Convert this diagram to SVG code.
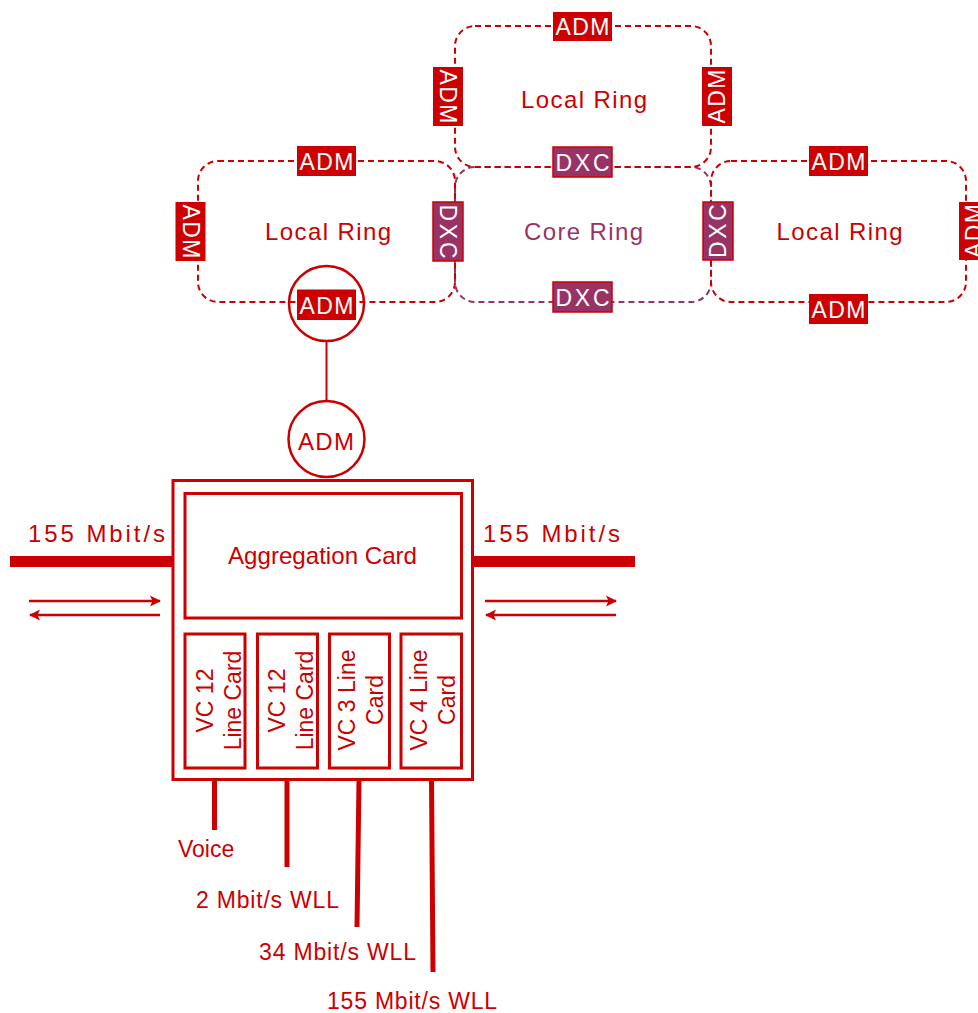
<svg xmlns="http://www.w3.org/2000/svg" width="978" height="1013" viewBox="0 0 978 1013">
  <style>
    text { font-family: "Liberation Sans", Arial, sans-serif; }
    .ring { fill: none; stroke: #CC0000; stroke-width: 2; stroke-dasharray: 6 4; }
    .core { fill: none; stroke: #993366; stroke-width: 2; stroke-dasharray: 6 4; }
    .adm { fill: #CC0000; }
    .dxc { fill: #993366; stroke: #CC0000; stroke-width: 1.5; }
    .boxtxt { fill: #FFFFFF; font-size: 23px; text-anchor: middle; }
    .ringtxt { fill: #CC0000; font-size: 23px; text-anchor: middle; }
    .big { font-size: 24px; }
    .coretxt { fill: #993366; font-size: 24px; text-anchor: middle; }
    .frame { fill: #FFFFFF; stroke: #CC0000; stroke-width: 3; }
    .card { fill: none; stroke: #CC0000; stroke-width: 3; }
    .lbl { fill: #CC0000; font-size: 23px; }
    .rate { font-size: 24px; }
    .circ { fill: none; stroke: #CC0000; stroke-width: 2.5; }
    .trunk { stroke: #CC0000; stroke-width: 11; }
    .drop { stroke: #CC0000; stroke-width: 5; }
    .link { stroke: #CC0000; stroke-width: 2; fill: none; }
    .flow { stroke: #CC0000; stroke-width: 2.5; fill: none; marker-end: url(#head); }
  </style>
  <defs>
    <marker id="head" markerUnits="userSpaceOnUse" markerWidth="14" markerHeight="14" refX="11" refY="7" orient="auto">
      <path d="M1,1.5 L12,7 L1,12.5 L3.5,7 Z" fill="#CC0000"/>
    </marker>
  </defs>

  <!-- SDH rings -->
  <g id="core-ring">
    <rect class="core" x="455" y="167" width="256" height="135" rx="20"/>
  </g>
  <g id="local-ring-top">
    <rect class="ring" x="455" y="26" width="256" height="141" rx="20"/>
    <text class="ringtxt big" x="584" y="108" textLength="126" lengthAdjust="spacing">Local Ring</text>
  </g>
  <g id="local-ring-left">
    <rect class="ring" x="198" y="161" width="257" height="141" rx="20"/>
    <text class="ringtxt big" x="328" y="240" textLength="126" lengthAdjust="spacing">Local Ring</text>
  </g>
  <g id="local-ring-right">
    <rect class="ring" x="711" y="161" width="255" height="141" rx="20"/>
    <text class="ringtxt big" x="839.5" y="240" textLength="126" lengthAdjust="spacing">Local Ring</text>
  </g>
  <g id="core-label">
    <text class="coretxt" x="583.5" y="240" textLength="119" lengthAdjust="spacing">Core Ring</text>
  </g>

  <!-- Ring network elements -->
  <g id="adm-top-1">
    <rect class="adm" x="553" y="12" width="59" height="29"/>
    <text class="boxtxt" x="582.5" y="35" textLength="54" lengthAdjust="spacing">ADM</text>
  </g>
  <g id="adm-top-2" transform="translate(448,96.5) rotate(90)">
    <rect class="adm" x="-29.5" y="-15" width="59" height="30"/>
    <text class="boxtxt" x="0" y="8" textLength="54" lengthAdjust="spacing">ADM</text>
  </g>
  <g id="adm-top-3" transform="translate(717,96.5) rotate(-90)">
    <rect class="adm" x="-29.5" y="-15" width="59" height="30"/>
    <text class="boxtxt" x="0" y="8" textLength="54" lengthAdjust="spacing">ADM</text>
  </g>
  <g id="dxc-top">
    <rect class="dxc" x="553" y="147" width="59" height="30"/>
    <text class="boxtxt" x="582.5" y="170.5" textLength="54" lengthAdjust="spacing">DXC</text>
  </g>
  <g id="adm-left-1">
    <rect class="adm" x="297" y="146" width="59" height="30"/>
    <text class="boxtxt" x="326.5" y="169.5" textLength="54" lengthAdjust="spacing">ADM</text>
  </g>
  <g id="adm-left-2" transform="translate(190.5,231.5) rotate(90)">
    <rect class="adm" x="-29.5" y="-15" width="59" height="30"/>
    <text class="boxtxt" x="0" y="8" textLength="54" lengthAdjust="spacing">ADM</text>
  </g>
  <g id="dxc-left" transform="translate(448,231.5) rotate(90)">
    <rect class="dxc" x="-29.5" y="-15" width="59" height="30"/>
    <text class="boxtxt" x="0" y="8" textLength="54" lengthAdjust="spacing">DXC</text>
  </g>
  <g id="adm-gateway">
    <rect class="adm" x="297" y="289.5" width="59" height="30.5"/>
    <text class="boxtxt" x="326.5" y="313.5" textLength="54" lengthAdjust="spacing">ADM</text>
    <circle class="circ" cx="326.5" cy="303.5" r="37.5"/>
  </g>
  <g id="dxc-bottom">
    <rect class="dxc" x="553" y="282" width="59" height="30"/>
    <text class="boxtxt" x="582.5" y="305.5" textLength="54" lengthAdjust="spacing">DXC</text>
  </g>
  <g id="dxc-right" transform="translate(718,231) rotate(-90)">
    <rect class="dxc" x="-29" y="-15" width="58" height="30"/>
    <text class="boxtxt" x="0" y="8" textLength="54" lengthAdjust="spacing">DXC</text>
  </g>
  <g id="adm-right-1">
    <rect class="adm" x="809" y="146" width="59" height="30"/>
    <text class="boxtxt" x="838.5" y="169.5" textLength="54" lengthAdjust="spacing">ADM</text>
  </g>
  <g id="adm-right-2">
    <rect class="adm" x="809" y="294" width="59" height="30"/>
    <text class="boxtxt" x="838.5" y="317.5" textLength="54" lengthAdjust="spacing">ADM</text>
  </g>
  <!-- this element sits on the right-hand edge of the drawing and runs off it -->
  <g id="adm-right-3" transform="translate(974,231) rotate(-90)">
    <rect class="adm" x="-29" y="-15" width="58" height="30"/>
    <text class="boxtxt" x="0" y="8" textLength="54" lengthAdjust="spacing">ADM</text>
  </g>

  <!-- Links and traffic flows -->
  <g id="connectors">
    <line class="link" x1="326.5" y1="341" x2="326.5" y2="401"/>
    <line class="trunk" x1="10" y1="561.5" x2="173" y2="561.5"/>
    <line class="trunk" x1="473" y1="561.5" x2="635" y2="561.5"/>
    <line class="flow" x1="29" y1="601" x2="160" y2="601"/>
    <line class="flow" x1="160" y1="615" x2="30" y2="615"/>
    <line class="flow" x1="485" y1="601" x2="616" y2="601"/>
    <line class="flow" x1="616" y1="615" x2="486" y2="615"/>
    <line class="drop" x1="214.5" y1="780" x2="214.5" y2="830"/>
    <line class="drop" x1="287" y1="780" x2="287" y2="867"/>
    <line class="drop" x1="359" y1="780" x2="357" y2="927"/>
    <line class="drop" x1="431.5" y1="780" x2="433" y2="972"/>
  </g>

  <!-- Access multiplexer -->
  <g id="adm-access">
    <circle class="circ" cx="326.5" cy="439" r="38" fill="#FFFFFF"/>
    <text class="ringtxt big" x="326" y="450" textLength="56" lengthAdjust="spacing">ADM</text>
  </g>
  <g id="chassis">
    <rect class="frame" x="173" y="480.5" width="299.5" height="299"/>
  </g>
  <g id="aggregation-card">
    <rect class="card" x="185" y="493.5" width="276.5" height="124.5"/>
    <text class="ringtxt big" x="322.5" y="564" textLength="189" lengthAdjust="spacingAndGlyphs">Aggregation Card</text>
  </g>
  <g id="line-card-1">
    <rect class="card" x="185" y="634" width="60" height="134"/>
    <g transform="translate(214.5,700.5) rotate(-90)">
      <text class="ringtxt" x="0" y="-1.5">VC 12</text>
      <text class="ringtxt" x="0" y="26.5">Line Card</text>
    </g>
  </g>
  <g id="line-card-2">
    <rect class="card" x="257.5" y="634" width="60" height="134"/>
    <g transform="translate(287.5,700.5) rotate(-90)">
      <text class="ringtxt" x="0" y="-2.5">VC 12</text>
      <text class="ringtxt" x="0" y="25.5">Line Card</text>
    </g>
  </g>
  <g id="line-card-3">
    <rect class="card" x="329.5" y="634" width="60" height="134"/>
    <g transform="translate(359.5,700) rotate(-90)">
      <text class="ringtxt" x="0" y="-4.5">VC 3 Line</text>
      <text class="ringtxt" x="0" y="23.5">Card</text>
    </g>
  </g>
  <g id="line-card-4">
    <rect class="card" x="401" y="634" width="60.5" height="134"/>
    <g transform="translate(431,700) rotate(-90)">
      <text class="ringtxt" x="0" y="-4">VC 4 Line</text>
      <text class="ringtxt" x="0" y="24">Card</text>
    </g>
  </g>

  <!-- Interface labels -->
  <g id="labels">
    <text class="lbl rate" x="28" y="542" textLength="137" lengthAdjust="spacing">155 Mbit/s</text>
    <text class="lbl rate" x="483" y="542" textLength="137" lengthAdjust="spacing">155 Mbit/s</text>
    <text class="lbl" x="178" y="857">Voice</text>
    <text class="lbl" x="196" y="908" textLength="143" lengthAdjust="spacing">2 Mbit/s WLL</text>
    <text class="lbl" x="259" y="960" textLength="157" lengthAdjust="spacing">34 Mbit/s WLL</text>
    <text class="lbl" x="327" y="1009" textLength="170" lengthAdjust="spacing">155 Mbit/s WLL</text>
  </g>
</svg>
